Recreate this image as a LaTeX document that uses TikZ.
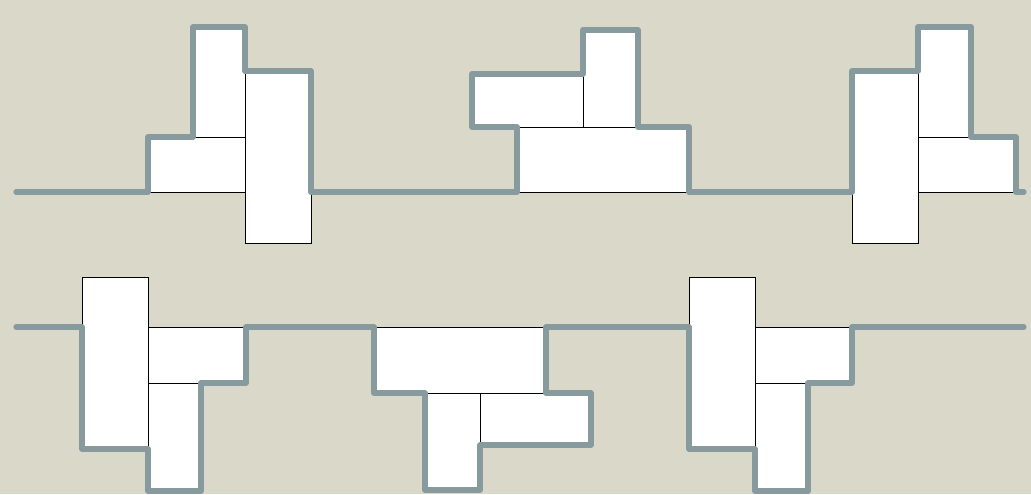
\documentclass[tikz,border=0pt]{standalone}
\definecolor{bg}{HTML}{DAD8C8}
\definecolor{rim}{HTML}{879B9E}
\tikzset{
  piece/.style={fill=white,draw=black,line width=0.75pt},
  outline/.style={draw=rim,line width=3.9pt,line join=round,line cap=round}
}
\begin{document}
\begin{tikzpicture}[x=0.75pt,y=-0.75pt]
\fill[bg] (0,0) rectangle (1031,494);
\useasboundingbox (0,0) rectangle (1031,494);
% top left group
\draw[piece] (193,27) rectangle (245,137);
\draw[piece] (148,137) rectangle (245,192);
\draw[piece] (245,71) rectangle (311,243);
% top middle group
\draw[piece] (472,74) rectangle (583,127);
\draw[piece] (583,30) rectangle (638,127);
\draw[piece] (517,127) rectangle (689,192);
% top right group
\draw[piece] (852,71) rectangle (918,243);
\draw[piece] (918,27) rectangle (971,137);
\draw[piece] (918,137) rectangle (1016,192);
% bottom left group
\draw[piece] (82,277) rectangle (148,449);
\draw[piece] (148,327) rectangle (246,383);
\draw[piece] (148,383) rectangle (201,491);
% bottom middle group
\draw[piece] (374,327) rectangle (546,393);
\draw[piece] (425,393) rectangle (480,490);
\draw[piece] (480,393) rectangle (591,445);
% bottom right group
\draw[piece] (689,277) rectangle (755,449);
\draw[piece] (755,327) rectangle (852,383);
\draw[piece] (755,383) rectangle (808,491);
% outlines
\draw[outline] (16,192) -- (148,192) -- (148,137) -- (193,137) -- (193,27) -- (245,27) -- (245,71) -- (311,71) -- (311,192)
  -- (517,192) -- (517,127) -- (472,127) -- (472,74) -- (583,74) -- (583,30) -- (638,30) -- (638,127) -- (689,127) -- (689,192)
  -- (852,192) -- (852,71) -- (918,71) -- (918,27) -- (971,27) -- (971,137) -- (1016,137) -- (1016,192) -- (1024,192);
\draw[outline] (16,327) -- (82,327) -- (82,449) -- (148,449) -- (148,491) -- (201,491) -- (201,383) -- (246,383) -- (246,327)
  -- (374,327) -- (374,393) -- (425,393) -- (425,490) -- (480,490) -- (480,445) -- (591,445) -- (591,393) -- (546,393) -- (546,327)
  -- (689,327) -- (689,449) -- (755,449) -- (755,491) -- (808,491) -- (808,383) -- (852,383) -- (852,327) -- (1024,327);
\end{tikzpicture}
\end{document}
